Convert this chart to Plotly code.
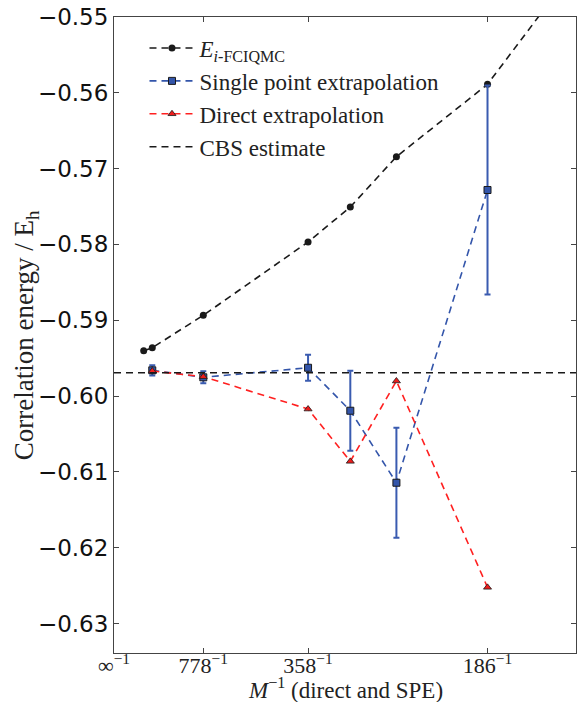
import plotly.graph_objects as go

# ---- data ----
# basis size M for each point (x = 1/M)
M_fciqmc = [2340, 1815, 778, 358, 294, 246, 186, 150]
E_fciqmc = [-0.59402, -0.59363, -0.58935, -0.57968, -0.57507, -0.56843, -0.55888, -0.5432]

M_spe = [1815, 778, 358, 294, 246, 186]
E_spe = [-0.59661, -0.59753, -0.59627, -0.60194, -0.61144, -0.57282]
E_spe_err = [0.00068, 0.00080, 0.00170, 0.00528, 0.00726, 0.01378]

M_direct = [1815, 778, 358, 294, 246, 186]
E_direct = [-0.59670, -0.59745, -0.60172, -0.60862, -0.59802, -0.62524]

E_cbs = -0.59693

x_tick_M = [None, 778, 358, 186]
x_tick_text = ["\u221e<sup>\u22121</sup>", "778<sup>\u22121</sup>", "358<sup>\u22121</sup>", "186<sup>\u22121</sup>"]
y_ticks = [-0.55, -0.56, -0.57, -0.58, -0.59, -0.60, -0.61, -0.62, -0.63]

def inv(ms):
    return [0.0 if m is None else 1.0 / m for m in ms]

X_MAX = 0.00665
Y_RANGE = [-0.6339, -0.55]

serif = "Liberation Serif"
sans = "DejaVu Sans"
dash = "7px,5px"

fig = go.Figure()

fig.add_trace(go.Scatter(
    x=inv(M_fciqmc), y=E_fciqmc, mode="lines+markers",
    name="<i>E</i><sub><i>i</i>-FCIQMC</sub>",
    line=dict(color="#1a1a1a", dash=dash, width=1.6),
    marker=dict(symbol="circle", size=7, color="#1a1a1a"),
    legendgroup="a",
))

fig.add_trace(go.Scatter(
    x=inv(M_spe), y=E_spe, mode="lines+markers",
    name="Single point extrapolation",
    line=dict(color="#3355aa", dash=dash, width=1.6),
    marker=dict(symbol="square", size=7, color="#3355aa", line=dict(color="#1a1a1a", width=1)),
    error_y=dict(type="data", array=E_spe_err, visible=True, color="#3a5bb0", thickness=2, width=3),
    legendgroup="b",
))

fig.add_trace(go.Scatter(
    x=inv(M_direct), y=E_direct, mode="lines+markers",
    name="Direct extrapolation",
    line=dict(color="#ff2020", dash=dash, width=1.6),
    marker=dict(symbol="triangle-up", size=7, color="#ee1c1c", line=dict(color="#1a1a1a", width=0.8)),
    legendgroup="c",
))

fig.add_trace(go.Scatter(
    x=[0, X_MAX], y=[E_cbs, E_cbs], mode="lines",
    name="CBS estimate",
    line=dict(color="#1a1a1a", dash=dash, width=1.6),
    legendgroup="d",
))

axis_common = dict(
    showgrid=False, zeroline=False, showline=True, linecolor="#444", linewidth=1,
    mirror="ticks", ticks="inside", ticklen=5, tickcolor="#444", tickwidth=1,
)

fig.update_layout(
    width=577, height=702,
    margin=dict(l=114, r=1, t=17, b=49),
    paper_bgcolor="white", plot_bgcolor="white",
    showlegend=True,
    legend=dict(
        x=0.066, y=0.985, xanchor="left", yanchor="top",
        bgcolor="rgba(0,0,0,0)", borderwidth=0,
        font=dict(family=serif, size=23, color="#222"),
        itemwidth=45, tracegroupgap=0,
    ),
    xaxis=dict(
        range=[0, X_MAX],
        tickvals=inv(x_tick_M), ticktext=x_tick_text,
        tickfont=dict(family=serif, size=22, color="#222"),
        ticklabelstandoff=-7,
        **axis_common,
    ),
    yaxis=dict(
        range=Y_RANGE,
        tickvals=y_ticks, ticktext=["\u2212%.2f" % abs(v) for v in y_ticks],
        tickfont=dict(family=sans, size=23, color="#111"),
        **axis_common,
    ),
    annotations=[
        dict(text="Correlation energy / E<sub>h</sub>", xref="paper", yref="paper",
             x=-0.19, y=0.5, xanchor="center", yanchor="middle", textangle=-90,
             showarrow=False, font=dict(family=serif, size=27, color="#222")),
        dict(text="<i>M</i><sup>\u22121</sup> (direct and SPE)", xref="paper", yref="paper",
             x=0.5, y=-0.081, xanchor="center", yanchor="bottom",
             showarrow=False, font=dict(family=serif, size=23, color="#222")),
    ],
)

fig.write_html("out.html")
